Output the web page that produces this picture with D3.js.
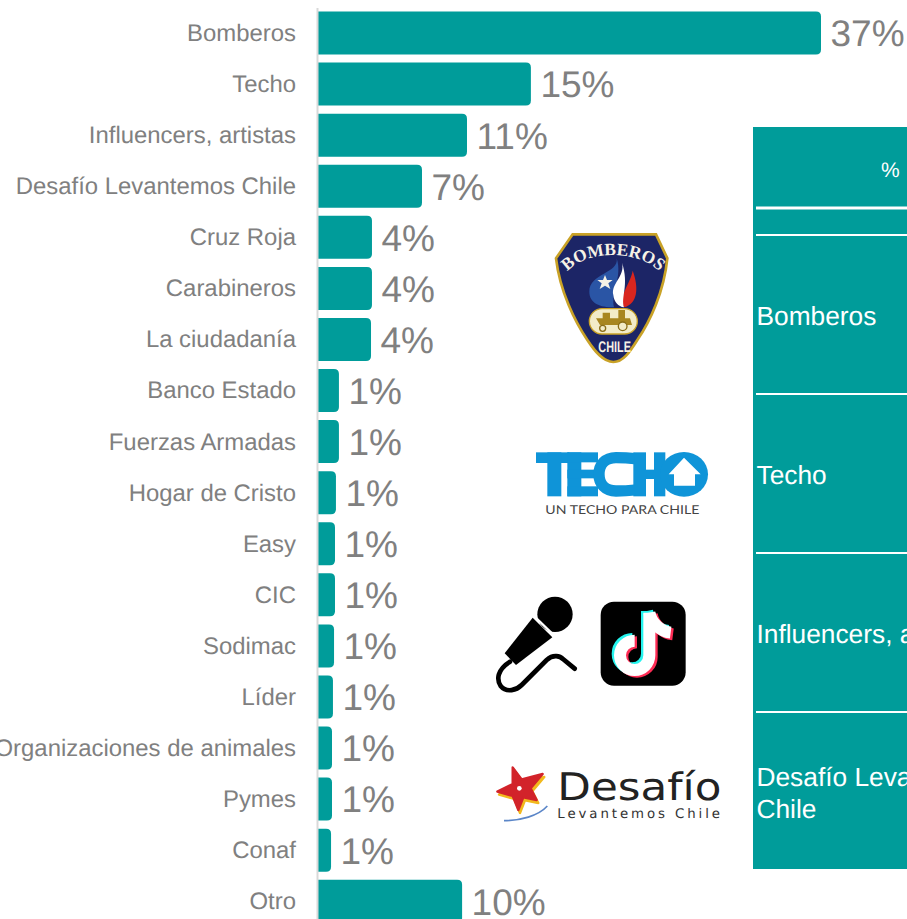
<!DOCTYPE html>
<html>
<head>
<meta charset="utf-8">
<script src="https://cdn.jsdelivr.net/npm/d3@7"></script>
<style>
html, body { margin: 0; padding: 0; background: #fff; overflow: hidden; }
svg { display: block; font-family: "Liberation Sans", Arial, sans-serif; text-rendering: geometricPrecision; opacity: 0.999; }
</style>
</head>
<body>
<div id="chart"></div>
<script>
// categories and values
var categories = ['Bomberos', 'Techo', 'Influencers, artistas', 'Desafío Levantemos Chile', 'Cruz Roja',
    'Carabineros', 'La ciudadanía', 'Banco Estado', 'Fuerzas Armadas', 'Hogar de Cristo', 'Easy', 'CIC',
    'Sodimac', 'Líder', 'Organizaciones de animales', 'Pymes', 'Conaf', 'Otro'];
var values = [37, 15.66, 10.96, 7.65, 3.97, 3.97, 3.9, 1.54, 1.54, 1.32, 1.25, 1.25, 1.18, 1.1, 1.03, 1.03, 0.96, 10.6];
var valueLabels = ['37%', '15%', '11%', '7%', '4%', '4%', '4%', '1%', '1%', '1%', '1%', '1%', '1%', '1%', '1%', '1%', '1%', '10%'];
var tableRows = [['Bomberos'], ['Techo'], ['Influencers, artistas'], ['Desafío Levantemos', 'Chile']];

var width = 907;
var height = 919;
var teal = '#009c9a';
var grey = '#808080';

var svg = d3.select('#chart').append('svg').attr('width', width).attr('height', height);

var x = d3.scaleLinear().domain([0, 37]).range([318, 821]);
var y = d3.scaleBand().domain(categories).range([7.5, 926.8]).paddingInner(0.158).paddingOuter(0.079);

function barPath(d, i) {
    var x0 = x(0), x1 = x(values[i]), top = y(d), h = y.bandwidth();
    var r = Math.min(5, x1 - x0);
    return 'M' + x0 + ',' + top + 'H' + (x1 - r) + 'Q' + x1 + ',' + top + ' ' + x1 + ',' + (top + r) +
        'V' + (top + h - r) + 'Q' + x1 + ',' + (top + h) + ' ' + (x1 - r) + ',' + (top + h) + 'H' + x0 + 'Z';
}

svg.append('g').selectAll('path').data(categories).enter().append('path')
    .attr('d', barPath)
    .attr('fill', teal);

var axis = svg.append('g')
    .attr('transform', 'translate(317,0)')
    .call(d3.axisLeft(y).tickSize(0).tickPadding(21));
axis.select('.domain').attr('stroke', '#d9d9d9').attr('stroke-width', 2);
axis.selectAll('text')
    .attr('fill', grey)
    .attr('dy', '0.33em')
    .style('font-size', '23.9px')
    .style('font-family', '"Liberation Sans", Arial, sans-serif');

svg.append('g').selectAll('text').data(categories).enter().append('text')
    .attr('x', function(d, i) { return x(values[i]) + 9.5; })
    .attr('y', function(d) { return y(d) + y.bandwidth() / 2; })
    .attr('dy', '0.36em')
    .attr('fill', grey)
    .style('font-size', '37px')
    .text(function(d, i) { return valueLabels[i]; });

// the table cut off by the right edge
var table = svg.append('g');
table.append('rect').attr('x', 753).attr('y', 127).attr('width', 154).attr('height', 742).attr('fill', teal);
[208, 235, 394, 553, 712].forEach(function(ly, i) {
    table.append('line').attr('x1', 756).attr('x2', 907).attr('y1', ly).attr('y2', ly)
        .attr('stroke', '#fff').attr('stroke-width', i === 0 ? 3 : 2);
});
table.append('text').attr('x', 881).attr('y', 177).attr('fill', '#fff').style('font-size', '21px').text('%');
var rowCenters = [316, 475, 634, 793];
tableRows.forEach(function(lines, i) {
    lines.forEach(function(line, j) {
        table.append('text')
            .attr('x', 756.5)
            .attr('y', rowCenters[i] + (j - (lines.length - 1) / 2) * 32)
            .attr('dy', '0.35em')
            .attr('fill', '#fff')
            .style('font-size', '26.3px')
            .text(line);
    });
});

// logos, drawn in crop coordinates (3x) and scaled down
function logoLayer(ox, oy) {
    return svg.append('g').attr('transform', 'translate(' + ox + ',' + oy + ') scale(' + (1 / 3) + ')');
}

var shield = logoLayer(550, 230);
var gold = '#c9a227';
shield.append('path')
    .attr('d', 'M68,13H318L352,85C342,185 300,275 262,330C240,365 220,396 190,396C160,396 135,365 112,330C75,275 30,185 18,85Z')
    .attr('fill', '#1c2566').attr('stroke', gold).attr('stroke-width', 8);
shield.append('path').attr('id', 'bomberosArc').attr('d', 'M55,122C110,62 260,58 325,122').attr('fill', 'none');
shield.append('text').attr('fill', '#f6f2e6')
    .style('font-size', '52px').style('font-weight', 'bold').style('font-family', '"Liberation Serif", serif')
    .append('textPath').attr('href', '#bomberosArc').attr('startOffset', '50%').attr('text-anchor', 'middle')
    .text('BOMBEROS');
shield.append('path').attr('d', 'M200,85C208,130 118,130 118,185C118,220 150,232 192,232C182,190 218,140 200,85Z').attr('fill', '#2a55a5');
shield.append('path').attr('d', 'M248,122C242,160 205,195 222,232C262,222 268,175 248,122Z').attr('fill', '#d8261f');
shield.append('path').attr('d', 'M216,98C226,140 182,160 190,195C192,215 205,230 222,232C212,200 238,165 216,98Z').attr('fill', '#fff');
shield.append('path').attr('d', 'M165,135L171,150L188,150L175,160L181,177L165,167L149,177L155,160L142,150L159,150Z').attr('fill', '#f6f2e6');
shield.append('rect').attr('x', 118).attr('y', 236).attr('width', 144).attr('height', 76).attr('rx', 38)
    .attr('fill', '#f3ecc8').attr('stroke', gold).attr('stroke-width', 4);
shield.append('path').attr('d', 'M138,265H240L246,285H150ZM158,248H180V265H158ZM205,240H225V265H205Z').attr('fill', '#a88620');
shield.append('circle').attr('cx', 158).attr('cy', 295).attr('r', 9).attr('fill', '#f3ecc8').attr('stroke', '#8a6d18').attr('stroke-width', 4);
shield.append('circle').attr('cx', 218).attr('cy', 289).attr('r', 13).attr('fill', '#f3ecc8').attr('stroke', '#8a6d18').attr('stroke-width', 4);
shield.append('text').attr('x', 194).attr('y', 365).attr('text-anchor', 'middle').attr('fill', '#f6f2e6')
    .attr('textLength', 98).attr('lengthAdjust', 'spacingAndGlyphs')
    .style('font-size', '46px').style('font-weight', 'bold').text('CHILE');

var techo = logoLayer(530, 445);
var techoBlue = '#0f94d8';
// T, E, H pieces
[[18, 22, 100, 32], [52, 22, 42, 132], [112, 22, 42, 132], [112, 22, 92, 30], [112, 74, 84, 26], [112, 124, 92, 30],
    [310, 22, 38, 132], [348, 74, 50, 28], [372, 22, 34, 132]].forEach(function(r) {
    techo.append('rect').attr('x', r[0]).attr('y', r[1]).attr('width', r[2]).attr('height', r[3]).attr('fill', techoBlue);
});
// C
techo.append('path').attr('d', 'M314,41C290,38 272,38 258,38C225,38 207,60 207,88C207,116 225,138 258,138C272,138 290,138 314,135')
    .attr('fill', 'none').attr('stroke', techoBlue).attr('stroke-width', 34);
// O with the house inside
techo.append('ellipse').attr('cx', 462).attr('cy', 88).attr('rx', 72).attr('ry', 67).attr('fill', techoBlue);
techo.append('path').attr('d', 'M462,38L512,88H495V122H432V88H416Z').attr('fill', '#fff');
techo.append('text').attr('x', 46).attr('y', 208).attr('fill', '#444').attr('textLength', 462).attr('lengthAdjust', 'spacingAndGlyphs')
    .style('font-size', '37px').style('font-family', 'Lato, sans-serif').text('UN TECHO PARA CHILE');

var mic = logoLayer(480, 580);
mic.append('circle').attr('cx', 225).attr('cy', 103).attr('r', 53).attr('fill', '#000');
mic.append('path').attr('d', 'M158,113L217,172L108,255L74,220Z').attr('fill', '#000');
mic.append('line').attr('x1', 160).attr('y1', 106).attr('x2', 226).attr('y2', 170).attr('stroke', '#fff').attr('stroke-width', 7);
mic.append('path').attr('d', 'M90,245C50,270 50,300 62,318C80,340 110,330 125,315L200,240C220,222 240,228 250,238L284,266')
    .attr('fill', 'none').attr('stroke', '#000').attr('stroke-width', 14).attr('stroke-linecap', 'round');

var tiktok = logoLayer(480, 580);
tiktok.append('rect').attr('x', 362).attr('y', 65).attr('width', 255).attr('height', 252).attr('rx', 40).attr('fill', '#000');
[['#25f4ee', -7, -5], ['#fe2c55', 7, 5], ['#fff', 0, 0]].forEach(function(n) {
    var g = tiktok.append('g').attr('transform', 'translate(' + n[1] + ',' + n[2] + ')')
        .attr('fill', 'none').attr('stroke', n[0]).attr('stroke-width', 36);
    g.append('path').attr('d', 'M508,98V226A44,44 0 1 1 464,182');
    g.append('path').attr('d', 'M508,98C514,128 540,154 572,158');
});

var desafio = logoLayer(490, 760);
var starPoints = 'M68,22L95,58L158,42L122,85L140,120L100,112L85,150L68,108L22,95L68,72Z';
desafio.append('path').attr('d', starPoints).attr('fill', '#f2b91d').attr('stroke', '#f2b91d').attr('stroke-width', 7)
    .attr('stroke-linejoin', 'round').attr('transform', 'translate(5,9)');
desafio.append('path').attr('d', starPoints).attr('fill', '#d2232a').attr('stroke', '#d2232a').attr('stroke-width', 7)
    .attr('stroke-linejoin', 'round');
desafio.append('circle').attr('cx', 88).attr('cy', 85).attr('r', 7).attr('fill', '#fff');
desafio.append('path').attr('d', 'M42,182C90,182 145,168 172,138').attr('fill', 'none').attr('stroke', '#5b86c8').attr('stroke-width', 5);
desafio.append('text').attr('x', 202).attr('y', 120).attr('fill', '#222').attr('textLength', 492).attr('lengthAdjust', 'spacingAndGlyphs')
    .style('font-size', '114px').style('font-family', '"DejaVu Sans", sans-serif').text('Desafío');
desafio.append('text').attr('x', 202).attr('y', 175).attr('fill', '#333').attr('textLength', 488)
    .style('font-size', '40px').style('font-family', '"DejaVu Sans", sans-serif').text('Levantemos Chile');
</script>
</body>
</html>
